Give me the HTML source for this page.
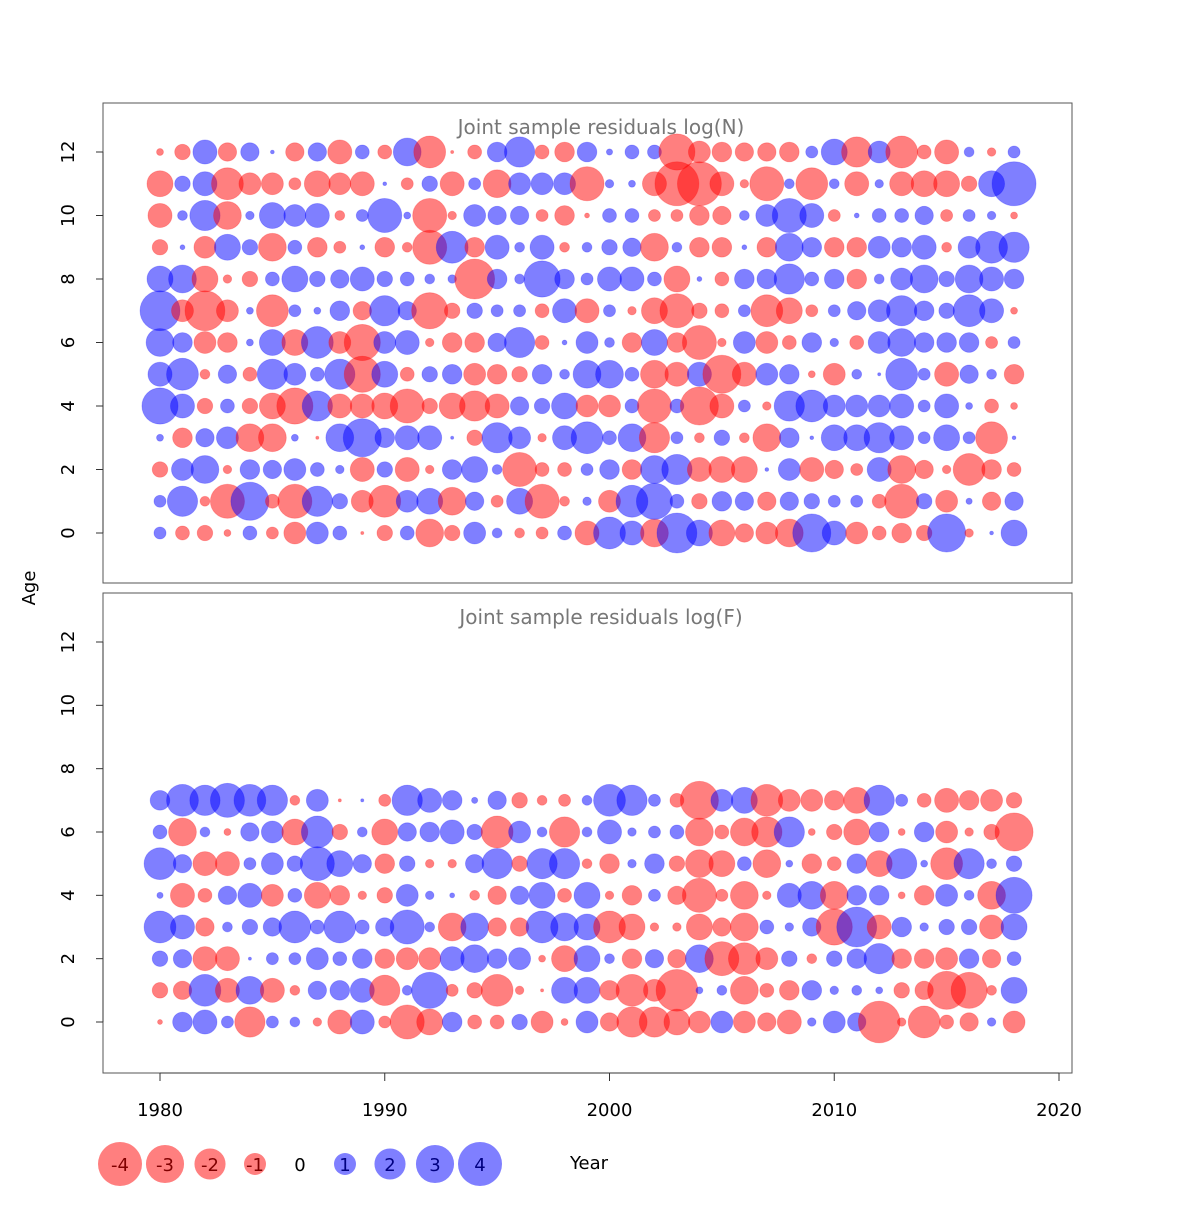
<!DOCTYPE html>
<html><head><meta charset="utf-8"><style>
body{margin:0;background:#fff}
svg text{font-family:"DejaVu Sans","Liberation Sans",sans-serif}
</style></head><body>
<svg id="chart" width="1200" height="1200" viewBox="0 0 1200 1200" xmlns="http://www.w3.org/2000/svg">
<rect width="1200" height="1200" fill="#fff"/>
<g id="top"></g>
<g id="bot"></g>
<g id="axes"></g>
<g id="legend"></g>
</svg>
<script>
const years=[];for(let y=1980;y<=2018;y++)years.push(y);
const xTicks=[1980,1990,2000,2010,2020];
const yTicks=[0,2,4,6,8,10,12];
const legendValues=[-4,-3,-2,-1,0,1,2,3,4];
// logN residuals: rows by age 0..12, columns 1980..2018
const resN0=[0.3,-0.4,-0.5,-0.1,0.4,-0.3,-1,1,0.4,-0.02,-0.5,0.4,-1.6,-0.5,1,0.2,-0.2,-0.3,0.4,-1.2,2.1,1.2,-1.6,3.3,1.4,-1.4,-0.7,-1,-1.6,3,1.2,-1,-0.4,-0.8,-0.5,3,-0.15,0.03,1.4];
const resN1=[0.3,1.9,-0.2,-2.4,3,-0.4,-2.4,1.9,0.5,-1,-2.1,1,1.4,-1.6,0.7,-0.3,1.4,-2.4,-0.2,0.15,-1,2.1,2.7,0.4,-0.5,0.8,0.7,-0.7,0.7,0.5,0.3,0.3,-0.4,-2.4,0.5,-1,0.08,-0.7,0.7];
const resN2=[-0.5,1,1.6,-0.15,0.8,0.7,1,0.4,0.15,-1.2,0.5,-1.2,-0.15,0.8,1.4,0.2,-2.4,-0.4,-0.4,0.3,0.8,-0.8,1.6,1.9,-1.2,-1.4,-1.4,0.03,1,-1.2,-0.7,-0.3,1.2,-1.6,-0.7,-0.15,-2.1,-0.8,-0.4];
const resN3=[0.1,-0.8,0.7,1,-1.6,-1.6,0.1,-0.02,1.6,3,0.8,1.2,1.2,0.02,-0.5,1.9,1,-0.15,1.2,2.1,0.4,1.6,-1.9,0.3,-0.2,0.5,-0.2,-1.6,0.8,0.03,1.4,1.4,1.9,1.2,0.3,1.4,0.3,-2.1,0.03];
const resN4=[2.7,1.2,-0.5,0.4,-0.5,-1.4,-2.7,1.9,-1.2,-1.2,-1.4,-2.4,-0.5,-1.4,-1.9,-1.2,0.7,0.5,1.4,-1,-1,0.4,-2.4,0.4,-3,-1.2,0.3,-0.15,1.9,2.1,1,1,1,1.2,0.3,1.2,0.1,-0.4,-0.1];
const resN5=[1.2,2.1,-0.2,0.7,-0.4,1.9,1,0.4,1.9,-2.7,1.4,-0.4,0.5,0.8,-1,-0.8,-0.5,0.8,0.2,1.6,1.6,0.4,-1.6,-1.2,1.2,-3,-1.2,1,0.8,-0.1,-1,0.2,0.02,2.1,0.3,-1.2,0.7,0.2,-0.8];
const resN6=[1.6,0.8,-1,-0.8,0.1,1.4,-1.4,2.1,-1,-2.7,1,1.2,-0.15,-0.8,-0.8,0.7,1.9,-0.4,0.05,1,0.2,-0.8,1.4,-0.8,-2.4,-0.15,1,-1,-0.4,0.8,0.15,-0.4,1,1.6,0.8,0.8,0.8,-0.3,0.3];
const resN7=[3.3,-1,-3.3,-1,0.1,-2.1,0.3,0.1,0.8,-0.7,1.9,0.7,-2.7,-0.5,0.5,0.3,0.3,-0.4,1.2,-1.2,0.3,-0.15,-1.4,-2.4,-0.5,-0.4,0.3,-2.1,-1.4,-0.3,0.3,0.7,1,1.9,0.8,0.5,2.1,1.2,-0.1];
const resN8=[1.4,1.6,-1.4,-0.15,-0.5,0.4,1.4,0.5,0.7,1.2,0.5,0.4,0.2,0.15,-3.3,0.8,0.2,2.7,0.8,0.3,1.2,1.2,0.4,-1.4,0.05,-0.4,0.8,0.8,1.9,0.4,0.8,-0.8,0.2,1,1.6,0.5,1.6,1.2,0.8];
const resN9=[-0.5,0.05,-1,1.4,0.5,-1.6,0.4,-0.8,-0.3,0.05,-0.8,-0.2,-2.4,2.1,-0.8,1.2,0.2,1.2,-0.2,0.2,0.5,0.7,-1.6,0.2,-0.8,-0.8,0.05,-0.8,1.6,0.8,-0.8,-0.8,1,0.8,1.2,-0.2,1,2.1,1.9];
const resN10=[-1.2,0.2,1.9,-1.6,0.15,1.4,1,1.2,-0.2,0.3,2.4,0.1,-2.4,-0.15,1,0.7,0.7,-0.3,-0.8,-0.05,0.4,0.4,-0.3,-0.3,-0.8,-0.7,0.2,1,2.4,1.2,-0.3,0.05,0.4,0.4,0.7,-0.3,0.3,0.15,-0.1];
const resN11=[-1.4,0.5,1.2,-2.1,-1,-1,-0.3,-1.4,-1,-1.2,0.03,-0.3,0.5,-1.2,0.3,-1.6,1,1,1,-2.4,0.15,0.1,-1.2,-4,-4,-1.2,-0.15,-2.4,0.2,-2.1,0.2,-1.2,0.15,-1.2,-1.4,-1.4,-0.5,1.4,4];
const resN12=[-0.1,-0.5,1.2,-0.7,0.7,0.03,-0.7,0.7,-1.2,0.4,-0.4,1.6,-2.1,-0.02,-0.4,0.8,1.9,-0.4,-0.8,0.8,0.08,0.4,0.4,-2.7,-1,-0.8,-0.7,-0.7,-0.8,0.3,1.4,-1.9,1,-2.1,-0.4,-1.2,0.2,-0.15,0.3];
// logF residuals: ages 0..7
const resF0=[-0.05,0.8,1.2,0.3,-1.9,0.3,0.2,-0.15,-1.2,1.2,-0.3,-2.4,-1.4,0.8,-0.4,-0.4,0.5,-1,-0.1,1,-0.7,-1.9,-1.9,-1.4,-1,1,-1,-0.7,-1.2,0.15,1,0.7,-3.6,-0.15,-2.1,-0.4,-0.7,0.15,-1];
const resF1=[-0.5,-0.7,2.1,-1.2,1.6,-1.2,-0.2,0.7,0.8,1.2,-1.9,0.2,2.7,-0.3,-0.5,-2.1,-0.15,-0.02,1.4,1.4,-0.8,-2.1,-1,-3.6,0.1,0.2,-1.6,-0.4,-0.8,0.8,0.15,0.2,0.1,-0.5,-0.7,-3,-2.7,-0.2,1.4];
const resF2=[0.5,0.7,-1.2,-1.2,0.02,0.3,0.3,1,0.4,0.8,-0.8,-1,-1,1.2,1.6,0.8,1,-0.1,-1.4,1.4,0.2,-0.8,0.7,-0.7,1.6,-2.4,-2.1,-1,0.5,-0.2,0.5,0.8,1.9,-0.8,-0.8,-1,0.8,-0.7,0.4];
const resF3=[2.1,1.2,-0.7,0.2,0.5,0.7,2.1,0.4,2.1,0.4,0.7,2.4,0.2,-1.6,1.6,-0.7,-0.7,2.1,1.6,1.4,-2.1,-1.4,-0.15,-0.15,-1.4,-0.7,-1.6,0.4,0.15,0.7,-2.7,3.3,-1.2,0.8,0.15,0.5,0.5,-1.2,1.4];
const resF4=[0.08,-1.2,-0.4,0.7,1.2,-1,0.4,-1.4,-0.8,-0.15,-0.5,1,0.15,0.05,-0.2,-0.7,0.7,1.4,-0.4,1.4,-0.15,-0.8,0.3,-0.7,-2.4,-0.3,-1.6,-0.15,1.2,1.6,-1.6,0.8,0.8,-0.1,-0.8,1,0.2,-1.6,2.7];
const resF5=[2.1,0.7,-1.2,-1.2,0.3,1,0.5,2.4,1.4,0.7,-0.8,0.5,-0.15,-0.15,0.7,1.9,-0.5,1.9,1.9,-0.2,-0.8,0.15,0.8,-0.5,-1.6,-1.4,0.4,-1.6,0.1,-0.8,-0.4,0.8,-1.4,1.9,0.1,-2.1,1.9,0.2,0.5];
const resF6=[0.4,-1.6,0.2,-0.1,0.7,1,-1.4,2.1,-0.5,0.2,-1.4,0.7,0.8,1.2,0.5,-2.1,1,0.2,-1.9,0.2,1.2,0.15,0.3,0.4,-1.6,-0.4,-1.6,-1.9,1.9,-0.1,-0.5,-1.4,0.8,-0.1,0.8,-1,-0.15,-0.5,-3];
const resF7=[0.8,2.1,1.9,2.4,2.1,1.9,-0.2,1,-0.02,0.02,-0.3,1.9,1.2,0.8,0.08,0.7,-0.5,-0.2,-0.3,0.2,2.1,1.9,0.3,-0.4,-3,1,1.4,-2.1,-1,-1,-0.8,-1.4,1.9,0.3,-0.4,-1.2,-0.8,-1,-0.5];
const resN=[resN0,resN1,resN2,resN3,resN4,resN5,resN6,resN7,resN8,resN9,resN10,resN11,resN12];
const resF=[resF0,resF1,resF2,resF3,resF4,resF5,resF6,resF7];

const NS="http://www.w3.org/2000/svg";
const svg=document.getElementById('chart');
function mk(tag,attrs,parent){const e=document.createElementNS(NS,tag);for(const k in attrs)e.setAttribute(k,attrs[k]);parent.appendChild(e);return e;}
const xScale=y=>160+(y-1980)*(1059-160)/40;
const yTop=a=>533-a*(533-152)/12;
const yBot=a=>1022-a*(1022-642)/12;
const rScale=v=>11*Math.sqrt(Math.abs(v));
const RED='rgba(255,0,0,0.5)',BLUE='rgba(0,0,255,0.5)';

function panel(g,y0,ysc,data,title,label){
  const box=mk('rect',{x:103,y:y0,width:969,height:480,fill:'none',stroke:'#555','stroke-width':1},g);
  
  
  const t=mk('text',{x:601,y:y0+31,'text-anchor':'middle','font-size':20,fill:'#777'},g);
  t.textContent=title;
  
  
  data.forEach((row,age)=>{row.forEach((v,i)=>{
    const c=mk('circle',{cx:xScale(years[i]),cy:ysc(age),r:rScale(v),fill:v<0?RED:BLUE,stroke:v<0?'rgba(255,0,0,0.25)':'rgba(0,0,255,0.25)','stroke-width':0.8},g);
    
    
  });});
  yTicks.forEach(a=>{
    const y=ysc(a);
    mk('line',{x1:96,x2:103,y1:y,y2:y,stroke:'#333'},g);
    const tl=mk('text',{x:0,y:0,'text-anchor':'middle','font-size':18,fill:'#000',transform:`translate(74,${y}) rotate(-90)`},g);
    tl.textContent=a;
    
    
  });
  mk('line',{x1:103,x2:103,y1:ysc(0),y2:ysc(12),stroke:'#333'},g);
}
panel(document.getElementById('top'),103,yTop,resN,'Joint sample residuals log(N)','logN');
panel(document.getElementById('bot'),593,yBot,resF,'Joint sample residuals log(F)','logF');

const ax=document.getElementById('axes');
mk('line',{x1:xScale(1980),x2:xScale(2020),y1:1073,y2:1073,stroke:'#333'},ax);
xTicks.forEach(yr=>{
  mk('line',{x1:xScale(yr),x2:xScale(yr),y1:1073,y2:1081,stroke:'#333'},ax);
  const t=mk('text',{x:xScale(yr),y:1116,'text-anchor':'middle','font-size':18,fill:'#000'},ax);
  t.textContent=yr;
  
  
});
const at=mk('text',{x:0,y:0,'text-anchor':'middle','font-size':18,fill:'#000',transform:'translate(35,588) rotate(-90)'},ax);
at.textContent='Age';


const xt=mk('text',{x:589,y:1169,'text-anchor':'middle','font-size':18,fill:'#000'},ax);
xt.textContent='Year';



const lg=document.getElementById('legend');
legendValues.forEach((v,i)=>{
  const cx=120+i*45,cy=1164;
  if(v!==0){
    const c=mk('circle',{cx:cx,cy:cy,r:rScale(v),fill:v<0?RED:BLUE},lg);
    
    
  }
  const t=mk('text',{x:cx,y:cy+7,'text-anchor':'middle','font-size':18,fill:v<0?'#800000':(v>0?'#000080':'#000')},lg);
  t.textContent=v;
  
  
});
</script>
</body></html>
